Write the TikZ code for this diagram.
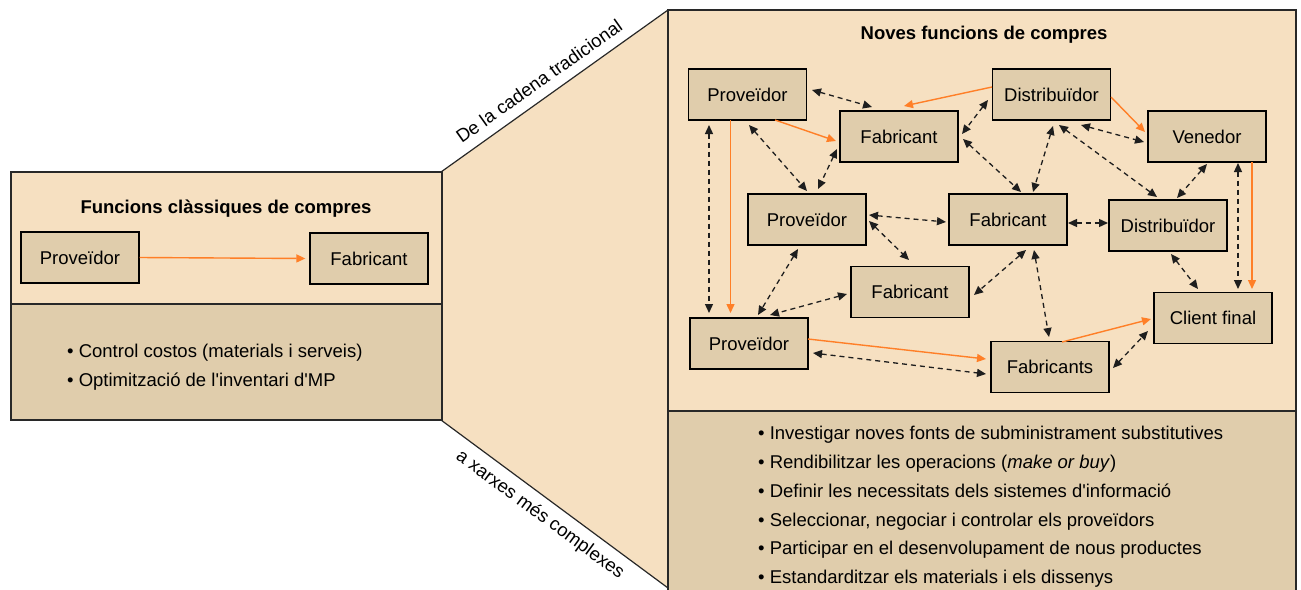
\documentclass[tikz,border=0pt]{standalone}
\usepackage{fontspec}
\setmainfont{Liberation Sans}
\usetikzlibrary{arrows.meta,calc}
\definecolor{panel}{RGB}{246,224,193}
\definecolor{panedark}{RGB}{224,205,172}
\definecolor{frame}{RGB}{40,40,40}
\definecolor{flow}{RGB}{255,127,39}
\definecolor{link}{RGB}{30,30,30}
\newcommand\bodysize{\fontsize{18.5}{22}\selectfont}
\newcommand\apos{\textquotesingle}

\begin{document}
\begin{tikzpicture}[x=1pt,y=-1pt,
  actor/.style={draw=black,line width=1.3pt,fill=panedark,minimum width=118pt,
    minimum height=51pt,inner sep=0pt,font=\bodysize},
  heading/.style={font=\bodysize\bfseries,anchor=base,inner sep=0pt},
  item/.style={font=\bodysize,anchor=base west,inner sep=0pt},
  slant/.style={font=\bodysize,inner sep=0pt},
  flowarrow/.style={draw=flow,line width=1.4pt,-{Triangle[length=9pt,width=8pt]}},
  linkarrow/.style={draw=link,line width=1.3pt,dash pattern=on 5pt off 4pt,
    {Triangle[length=9pt,width=8pt]}-{Triangle[length=9pt,width=8pt]}},
  panelframe/.style={draw=frame,line width=1.2pt}]

\useasboundingbox (0,0) rectangle (1301,589);

% widening funnel between the two panels
\fill[panel] (441,172) -- (668,10) -- (668,588) -- (441,420) -- cycle;
\draw[panelframe] (441,172) -- (668,10);
\draw[panelframe] (441,420) -- (668,588);

% left panel: classic purchasing
\fill[panel] (11,172) rectangle (442,304);
\fill[panedark] (11,304) rectangle (442,420);
\draw[panelframe] (11,172) rectangle (442,420);
\draw[panelframe] (11,304) -- (442,304);

% right panel: new purchasing functions
\fill[panel] (668,10) rectangle (1296,600);
\fill[panedark] (668,411) rectangle (1296,600);
\draw[panelframe] (668,600) -- (668,10) -- (1296,10) -- (1296,600);
\draw[panelframe] (668,411) -- (1296,411);

% slanted captions
\node[slant,rotate=35.3] (capup) at (539,81) {De la cadena tradicional};
\node[slant,rotate=-36.3] (capdown) at (540,515) {a xarxes més complexes};

% titles
\node[heading] (tleft) at (226,213) {Funcions clàssiques de compres};
\node[heading] (tright) at (984,39) {Noves funcions de compres};

% classic chain
\node[actor] (lP) at (80,257.5) {Proveïdor};
\node[actor] (lF) at (369,258.5) {Fabricant};
\draw[flowarrow] (lP.east) -- ($(lF.west)+(-4,0)$);

% classic duties
\node[item] (li1) at (67,357) {• Control costos (materials i serveis)};
\node[item] (li2) at (67,386) {• Optimització de l\apos inventari d\apos MP};

% network of actors
\node[actor] (p1) at (747.5,94.5) {Proveïdor};
\node[actor] (f1) at (899,136.5) {Fabricant};
\node[actor] (d1) at (1051.5,94.5) {Distribuïdor};
\node[actor] (v)  at (1207,136.5) {Venedor};
\node[actor] (p2) at (807,219.5) {Proveïdor};
\node[actor] (f2) at (1008,219.5) {Fabricant};
\node[actor] (d2) at (1168,225.5) {Distribuïdor};
\node[actor] (f3) at (910,292) {Fabricant};
\node[actor] (cf) at (1213,318) {Client final};
\node[actor] (p3) at (749,343.5) {Proveïdor};
\node[actor] (fs) at (1050,367) {Fabricants};

% material flow
\draw[flowarrow] ($(p1.center)+(27.5,25.5)$) -- ($(f1.center)+(-63,4.5)$);
\draw[flowarrow] ($(d1.center)+(-59.5,-7.5)$) -- ($(f1.center)+(5,-30.5)$);
\draw[flowarrow] ($(d1.center)+(59.5,2.5)$) -- ($(v.center)+(-62,-4.5)$);
\draw[flowarrow] ($(p1.center)+(-17,25.5)$) -- ($(p3.center)+(-18.5,-30.5)$);
\draw[flowarrow] ($(v.center)+(45,25.5)$) -- ($(cf.center)+(39,-29)$);
\draw[flowarrow] ($(p3.center)+(59,-4.5)$) -- ($(fs.center)+(-64,-8)$);
\draw[flowarrow] ($(fs.center)+(12,-25)$) -- ($(cf.center)+(-62,1)$);

% information links
\draw[linkarrow] ($(p1.center)+(64.5,-4.5)$) -- ($(f1.center)+(-27,-29.5)$);
\draw[linkarrow] ($(p1.center)+(1.5,30.5)$) -- ($(p2.center)+(0,-28.5)$);
\draw[linkarrow] ($(f1.center)+(-62,12.5)$) -- ($(p2.center)+(11,-30.5)$);
\draw[linkarrow] ($(d1.center)+(-63.5,5.5)$) -- ($(f1.center)+(63,-2.5)$);
\draw[linkarrow] ($(f1.center)+(64,2.5)$) -- ($(f2.center)+(13,-27.5)$);
\draw[linkarrow] ($(d1.center)+(1.5,31.5)$) -- ($(f2.center)+(25,-27.5)$);
\draw[linkarrow] ($(d1.center)+(7.5,30.5)$) -- ($(d2.center)+(-11,-28.5)$);
\draw[linkarrow] ($(d1.center)+(29.5,30.5)$) -- ($(v.center)+(-63,5.5)$);
\draw[linkarrow] ($(v.center)+(0,27.5)$) -- ($(d2.center)+(9,-27.5)$);
\draw[linkarrow] ($(v.center)+(31,26.5)$) -- ($(cf.center)+(25,-29)$);
\draw[linkarrow] ($(p1.center)+(-38.5,30.5)$) -- ($(p3.center)+(-40,-30.5)$);
\draw[linkarrow] ($(p2.center)+(62,-4.5)$) -- ($(f2.center)+(-62,2.5)$);
\draw[linkarrow] ($(p2.center)+(62,1.5)$) -- ($(f3.center)+(-1,-32)$);
\draw[linkarrow] ($(f2.center)+(60,3.5)$) -- ($(d2.center)+(-60,-2.5)$);
\draw[linkarrow] ($(f2.center)+(18,30.5)$) -- ($(f3.center)+(64,3)$);
\draw[linkarrow] ($(f2.center)+(26,30.5)$) -- ($(fs.center)+(-1,-30)$);
\draw[linkarrow] ($(d2.center)+(3,28.5)$) -- ($(cf.center)+(-15,-29)$);
\draw[linkarrow] ($(p2.center)+(-9,29.5)$) -- ($(p3.center)+(9,-28.5)$);
\draw[linkarrow] ($(f3.center)+(-63,2)$) -- ($(p3.center)+(21,-28.5)$);
\draw[linkarrow] ($(p3.center)+(64,9.5)$) -- ($(fs.center)+(-64,7)$);
\draw[linkarrow] ($(fs.center)+(63,1)$) -- ($(cf.center)+(-65,13)$);

% new duties
\node[item] (ri1) at (758,439) {• Investigar noves fonts de subministrament substitutives};
\node[item] (ri2) at (758,468) {• Rendibilitzar les operacions (\textit{make or buy})};
\node[item] (ri3) at (758,497) {• Definir les necessitats dels sistemes d\apos informació};
\node[item] (ri4) at (758,526) {• Seleccionar, negociar i controlar els proveïdors};
\node[item] (ri5) at (758,554) {• Participar en el desenvolupament de nous productes};
\node[item] (ri6) at (758,583) {• Estandarditzar els materials i els dissenys};

\end{tikzpicture}
\end{document}
